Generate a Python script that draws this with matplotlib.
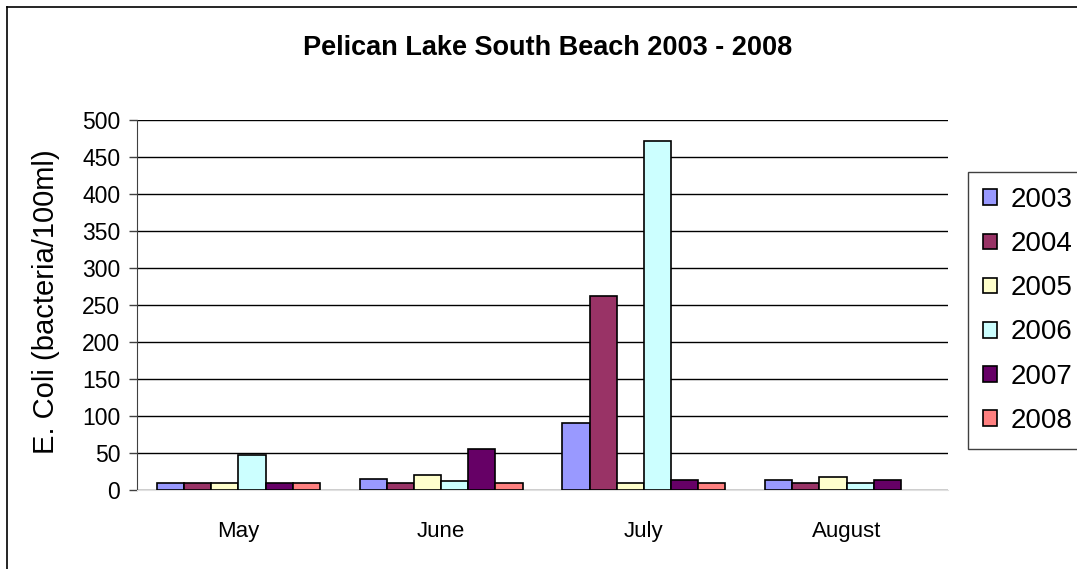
import numpy as np
import matplotlib
matplotlib.use("Agg")
from matplotlib import pyplot as plt
from matplotlib.lines import Line2D

plt.rcParams["font.family"] = ["Liberation Sans", "DejaVu Sans"]

months = ["May", "June", "July", "August"]
years = ["2003", "2004", "2005", "2006", "2007", "2008"]
colors = ["#9999FF", "#993366", "#FFFFCC", "#CCFFFF", "#660066", "#FF8080"]

ecoli_2003 = [10, 15, 90, 13]
ecoli_2004 = [10, 10, 262, 10]
ecoli_2005 = [10, 20, 10, 18]
ecoli_2006 = [47, 12, 472, 10]
ecoli_2007 = [10, 55, 13, 13]
ecoli_2008 = [10, 10, 10, np.nan]
series = [ecoli_2003, ecoli_2004, ecoli_2005, ecoli_2006, ecoli_2007, ecoli_2008]

fig = plt.figure(figsize=(10.77, 5.69), dpi=100)
ax = fig.add_axes([137 / 1077, 1 - 490 / 569, 811 / 1077, 370 / 569])

x = np.arange(len(months))
w = 0.134
for i, (vals, c, yr) in enumerate(zip(series, colors, years)):
    ax.bar(x + (i - 2.5) * w, vals, width=w, color=c, edgecolor="black",
           linewidth=1.2, label=yr, zorder=3)

ax.set_xlim(-0.5, 3.5)
ax.set_ylim(0, 500)
ax.set_yticks(range(0, 501, 50))
ax.set_xticks(x)
ax.set_xticklabels(months)
ax.tick_params(axis="x", length=0, pad=22, labelsize=16)
ax.tick_params(axis="y", length=6, width=1, color="#404040", pad=6, labelsize=16.5)
ax.grid(axis="y", color="black", linewidth=1, zorder=0)

for s in ["top", "right"]:
    ax.spines[s].set_visible(False)
ax.spines["left"].set_color("#404040")
ax.spines["bottom"].set_color("#e0e0e0")

ax.set_ylabel("E. Coli (bacteria/100ml)", fontsize=21)
ax.yaxis.set_label_coords(-0.095, 0.508)

fig.text(548 / 1077, 1 - 48 / 569, "Pelican Lake South Beach 2003 - 2008",
         ha="center", va="center", fontsize=19.5, fontweight="bold")

ax.legend(loc="upper left", bbox_to_anchor=(968 / 1077, 1 - 172 / 569),
          bbox_transform=fig.transFigure, borderaxespad=0, fontsize=20,
          fancybox=False, edgecolor="#404040", framealpha=1,
          handlelength=0.5, handleheight=0.5, handletextpad=0.5,
          labelspacing=0.65, borderpad=0.55)

fig.add_artist(Line2D([7 / 1077, 7 / 1077], [0, 1 - 7 / 569], color="black", lw=1.2))
fig.add_artist(Line2D([7 / 1077, 1], [1 - 7 / 569, 1 - 7 / 569], color="black", lw=1.2))

fig.savefig("out.png", dpi=100)
